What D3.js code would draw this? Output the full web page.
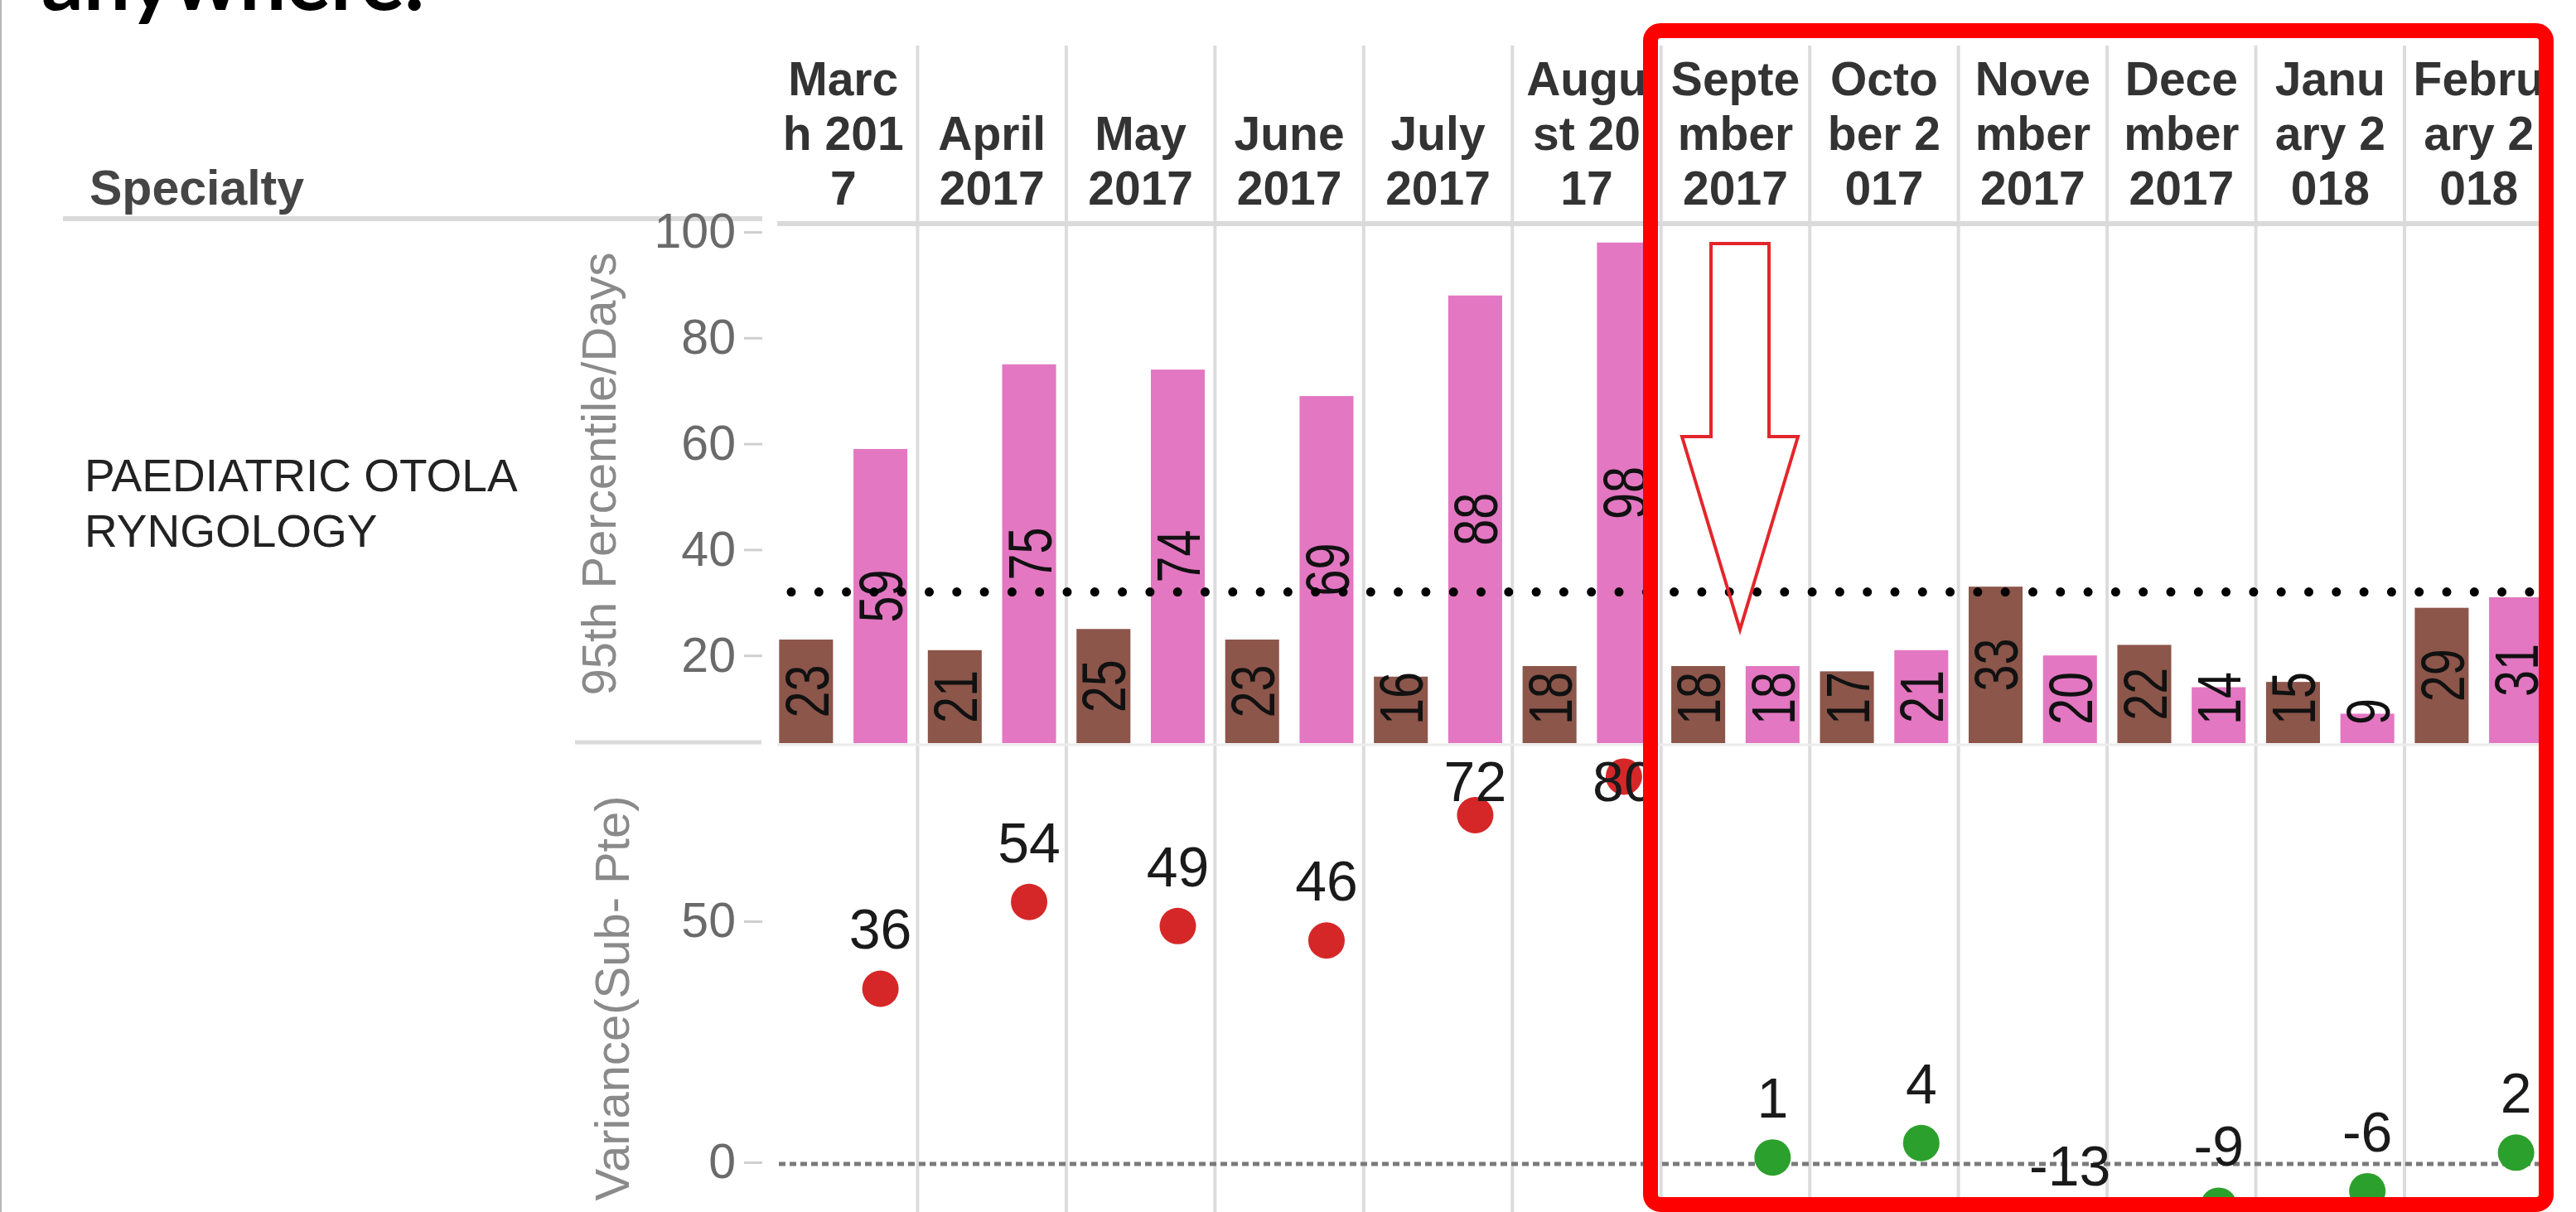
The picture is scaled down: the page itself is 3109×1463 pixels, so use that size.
<!DOCTYPE html>
<html>
<head>
<meta charset="utf-8">
<script src="https://cdn.jsdelivr.net/npm/d3@7"></script>
<style>
html,body{margin:0;padding:0;background:#fff;overflow:hidden}
text{font-family:"Liberation Sans",Arial,sans-serif}
</style>
</head>
<body>
<svg id="chart" width="3109" height="1463"></svg>
<script>
// ---------- data ----------
const months = ["March 2017","April 2017","May 2017","June 2017","July 2017","August 2017",
  "September 2017","October 2017","November 2017","December 2017","January 2018","February 2018"];
const monthHeaderLines = [["Marc","h 201","7"],["April","2017"],["May","2017"],["June","2017"],["July","2017"],
  ["Augu","st 20","17"],["Septe","mber","2017"],["Octo","ber 2","017"],["Nove","mber","2017"],
  ["Dece","mber","2017"],["Janu","ary 2","018"],["Febru","ary 2","018"]];
const seriesNames = ["Pte","Sub"];
const pteDays = [23,21,25,23,16,18,18,17,33,22,15,29];
const subDays = [59,75,74,69,88,98,18,21,20,14,9,31];
const variance = [36,54,49,46,72,80,1,4,-13,-9,-6,2];
const varianceStatus = ["High","High","High","High","High","High","OK","OK","Low","OK","OK","OK"];
const targetDays = 32;
const upperTicks = [20,40,60,80,100];
const lowerTicks = [0,50];
const specialtyLines = ["PAEDIATRIC OTOLA","RYNGOLOGY"];
const headerTitle = "Specialty";
const upperAxisTitle = "95th Percentile/Days";
const lowerAxisTitle = "Variance(Sub- Pte)";
const slideText = "anywhere.";

// ---------- layout ----------
const svg = d3.select("#chart");
const W = 3109, H = 1463;
const paneLeft = 928, paneRight = 3081.5;
const upperTop = 272, upperBottom = 897;
const lowerTop = 900;

const x = d3.scaleBand().domain(months).range([paneLeft, paneRight]).padding(0);
const xs = d3.scaleBand().domain(seriesNames).range([0, x.bandwidth()]).paddingInner(0.275).paddingOuter(0.1375);
const yTop = d3.scaleLinear().domain([0,100]).range([919,280]);
const yBot = d3.scaleLinear().domain([0,50]).range([1403,1112]);

const barColor = d3.scaleOrdinal().domain(seriesNames).range(["#8c564b","#e377c2"]);
const dotColor = d3.scaleOrdinal().domain(["High","OK","Low"]).range(["#d62728","#2ca02c","#ff7f0e"]);

// slide frame line and slide text
svg.append("line").attr("x1",1).attr("x2",1).attr("y1",0).attr("y2",H).attr("stroke","#b5b5b5").attr("stroke-width",2);
svg.append("text").attr("x",50).attr("y",12).text(slideText)
  .style("font-family","Lato, 'Open Sans', sans-serif").style("font-weight","bold")
  .attr("font-size",100).attr("fill","#000").attr("textLength",462).attr("lengthAdjust","spacingAndGlyphs");

// column separators
svg.append("g").selectAll("line").data(months.slice(1)).join("line")
  .attr("x1",d=>x(d)).attr("x2",d=>x(d)).attr("y1",55).attr("y2",H)
  .attr("stroke","#dcdcdc").attr("stroke-width",4);

// header lines
svg.append("line").attr("x1",76).attr("x2",920).attr("y1",264).attr("y2",264).attr("stroke","#dadada").attr("stroke-width",6);
svg.append("line").attr("x1",938).attr("x2",paneRight).attr("y1",270).attr("y2",270).attr("stroke","#dadada").attr("stroke-width",6);
svg.append("line").attr("x1",694).attr("x2",919).attr("y1",896).attr("y2",896).attr("stroke","#dadada").attr("stroke-width",5);
svg.append("line").attr("x1",938).attr("x2",paneRight).attr("y1",899).attr("y2",899).attr("stroke","#ececec").attr("stroke-width",3);

// header texts
svg.append("text").attr("x",108).attr("y",247).text(headerTitle)
  .attr("font-size",59).attr("font-weight","bold").attr("fill","#454545");
const hdr = svg.append("g").selectAll("text").data(months).join("text")
  .attr("text-anchor","middle").attr("font-size",57).attr("font-weight","bold").attr("fill","#333");
hdr.each(function(d,i){
  const lines = monthHeaderLines[i];
  const cx = x(d) + x.bandwidth()/2;
  d3.select(this).selectAll("tspan").data(lines).join("tspan")
    .attr("x",cx).attr("y",(l,j)=>247 - (lines.length-1-j)*66).text(l=>l);
});

// specialty row label
svg.append("g").selectAll("text").data(specialtyLines).join("text")
  .attr("x",102).attr("y",(d,i)=>593+i*67).text(d=>d)
  .attr("font-size",55).attr("fill","#222");

// axes
function styleAxis(g){
  g.select(".domain").remove();
  g.selectAll(".tick line").attr("stroke","#cfcfcf").attr("stroke-width",3);
  g.selectAll(".tick text").attr("font-size",59).attr("fill","#6a6a6a")
    .style("font-family","'Liberation Sans',Arial,sans-serif");
}
svg.append("g").attr("transform","translate(920,0)")
  .call(d3.axisLeft(yTop).tickValues(upperTicks).tickSize(22).tickPadding(10)).call(styleAxis);
svg.append("g").attr("transform","translate(920,0)")
  .call(d3.axisLeft(yBot).tickValues(lowerTicks).tickSize(22).tickPadding(10)).call(styleAxis);

svg.append("text").attr("transform","translate(743,572) rotate(-90)").attr("text-anchor","middle")
  .attr("font-size",58).attr("fill","#8a8a8a").text(upperAxisTitle);
svg.append("text").attr("transform","translate(759,1205) rotate(-90)").attr("text-anchor","middle")
  .attr("font-size",58).attr("fill","#8a8a8a").text(lowerAxisTitle);

// upper pane: bars
svg.append("clipPath").attr("id","upperClip").append("rect")
  .attr("x",paneLeft).attr("y",upperTop).attr("width",paneRight-paneLeft).attr("height",upperBottom-upperTop);
const barData = [];
months.forEach((m,i)=>{
  barData.push({m, s:"Pte", v:pteDays[i]});
  barData.push({m, s:"Sub", v:subDays[i]});
});
const upper = svg.append("g").attr("clip-path","url(#upperClip)");
upper.selectAll("rect").data(barData).join("rect")
  .attr("x",d=>x(d.m)+xs(d.s)).attr("width",xs.bandwidth())
  .attr("y",d=>yTop(d.v)).attr("height",d=>yTop(0)-yTop(d.v))
  .attr("fill",d=>barColor(d.s));

// target reference line
svg.append("line").attr("x1",955).attr("x2",3066).attr("y1",yTop(targetDays)).attr("y2",yTop(targetDays))
  .attr("stroke","#000").attr("stroke-width",11).attr("stroke-linecap","round").attr("stroke-dasharray","0,33.3");

// bar labels (rotated, compressed along reading direction like the source)
const barLabelSize = 74, perDigit = 32;
upper.selectAll("text").data(barData).join("text")
  .attr("transform",d=>{
    const cx = x(d.m)+xs(d.s)+xs.bandwidth()/2;
    const top = yTop(d.v);
    const half = String(d.v).length*perDigit/2;
    const cy = Math.min((top+upperBottom)/2, upperBottom-22-half);
    return `translate(${cx},${cy}) rotate(-90)`;
  })
  .attr("x",d=>-String(d.v).length*perDigit/2)
  .attr("dy","0.36em")
  .attr("textLength",d=>String(d.v).length*perDigit).attr("lengthAdjust","spacingAndGlyphs")
  .attr("font-size",barLabelSize).attr("fill","#111").text(d=>d.v);

// lower pane
svg.append("line").attr("x1",940).attr("x2",paneRight).attr("y1",yBot(0)+2).attr("y2",yBot(0)+2)
  .attr("stroke","#7a7a7a").attr("stroke-width",5).attr("stroke-dasharray","8,5");
const dotData = months.map((m,i)=>({m, v:variance[i], st:varianceStatus[i]}));
const dotX = d=>x(d.m)+xs("Sub")+xs.bandwidth()/2;
svg.append("g").selectAll("circle").data(dotData).join("circle")
  .attr("cx",dotX).attr("cy",d=>yBot(d.v)).attr("r",22).attr("fill",d=>dotColor(d.st));
svg.append("g").selectAll("text").data(dotData).join("text")
  .attr("x",dotX).attr("y",d=>Math.max(yBot(d.v)-48, lowerTop+67))
  .attr("text-anchor","middle").attr("font-size",68).attr("fill","#1a1a1a").text(d=>d.v);

// annotation: red box and arrow
svg.append("rect").attr("x",1992).attr("y",37).attr("width",1081).attr("height",1417).attr("rx",12)
  .attr("fill","none").attr("stroke","#ff0000").attr("stroke-width",18);
const arrowPts = [[2065,294],[2135,294],[2135,527],[2170,527],[2100,760],[2030,527],[2065,527]];
svg.append("path").attr("d",d3.line()(arrowPts)+"Z")
  .attr("fill","none").attr("stroke","#e3262b").attr("stroke-width",4).attr("stroke-linejoin","miter");
</script>
</body>
</html>
